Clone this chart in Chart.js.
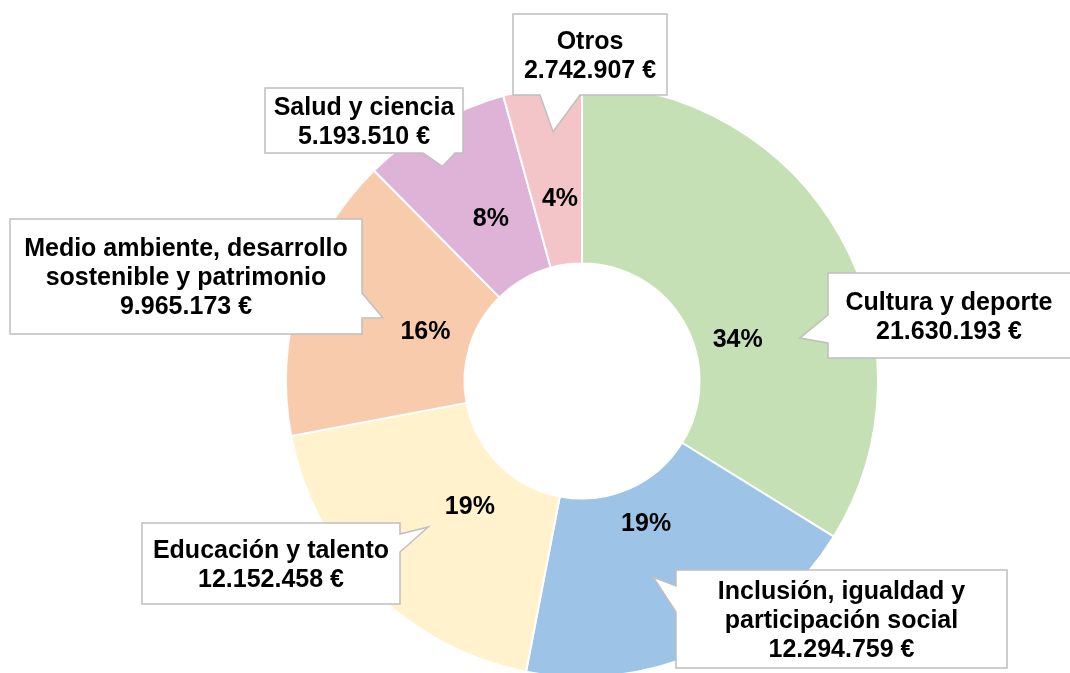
<!DOCTYPE html>
<html>
<head>
<meta charset="utf-8">
<script src="https://cdn.jsdelivr.net/npm/chart.js@4"></script>
<style>
  html, body { margin: 0; padding: 0; background: #fff; overflow: hidden; }
  canvas { display: block; }
</style>
</head>
<body>
<canvas id="chart" width="1070" height="700"></canvas>
<script>
const categories = [
  'Cultura y deporte',
  'Inclusión, igualdad y participación social',
  'Educación y talento',
  'Medio ambiente, desarrollo sostenible y patrimonio',
  'Salud y ciencia',
  'Otros'
]
const amounts = [21630193, 12294759, 12152458, 9965173, 5193510, 2742907]
const colors = ['#C5E0B4', '#9DC3E6', '#FFF2CC', '#F8CBAD', '#DEB3D7', '#F3C5C9']

// how each category name wraps inside its callout
const calloutLines = [
  ['Cultura y deporte'],
  ['Inclusión, igualdad y', 'participación social'],
  ['Educación y talento'],
  ['Medio ambiente, desarrollo', 'sostenible y patrimonio'],
  ['Salud y ciencia'],
  ['Otros']
]

// callout boxes, the edge their tail leaves from, and where the tail points (angle shift in deg, radius)
const callouts = [
  { box: [828, 273, 260, 85], tail: ['left', 315, 343], tip: [18, 222] },
  { box: [676, 570, 331, 98], tail: ['left', 586, 612], tip: [3.7, 209] },
  { box: [142, 523, 258, 81], tail: ['right', 534, 552], tip: [1.4, 212] },
  { box: [10, 219, 352, 115], tail: ['right', 293, 318], tip: [0.3, 209] },
  { box: [265, 88, 198, 65], tail: ['bottom', 423, 455], tip: [-3, 256] },
  { box: [513, 14, 154, 81], tail: ['bottom', 540, 580], tip: [1.1, 251] }
]

// percentage label placement inside the ring (angle shift in deg, radius)
const pctSpots = [[14.4, 161], [-0.4, 157], [-3.5, 169], [0, 164], [0.7, 186], [0.8, 183]]

const FONT = 'bold 25px "Liberation Sans", Arial, sans-serif'
const CLIP_TOP = 95

const total = amounts.reduce((a, b) => a + b, 0)
const fmtEuro = v => String(v).replace(/\B(?=(\d{3})+(?!\d))/g, '.') + ' €'
const rad = d => d * Math.PI / 180

function polar(arc, shiftDeg, r) {
  const mid = (arc.startAngle + arc.endAngle) / 2 + rad(shiftDeg)
  return { x: arc.x + r * Math.cos(mid), y: arc.y + r * Math.sin(mid) }
}

function calloutPath(ctx, box, tail, tip) {
  const [x, y, w, h] = box
  const [side, a, b] = tail
  ctx.beginPath()
  ctx.moveTo(x, y)
  ctx.lineTo(x + w, y)
  if (side === 'right') {
    ctx.lineTo(x + w, a)
    ctx.lineTo(tip.x, tip.y)
    ctx.lineTo(x + w, b)
  }
  ctx.lineTo(x + w, y + h)
  if (side === 'bottom') {
    ctx.lineTo(b, y + h)
    ctx.lineTo(tip.x, tip.y)
    ctx.lineTo(a, y + h)
  }
  ctx.lineTo(x, y + h)
  if (side === 'left') {
    ctx.lineTo(x, b)
    ctx.lineTo(tip.x, tip.y)
    ctx.lineTo(x, a)
  }
  ctx.closePath()
}

// ring is cut off flat along the top of the plot area
const clipTop = {
  id: 'clipTop',
  beforeDatasetsDraw(chart) {
    const ctx = chart.ctx
    ctx.save()
    ctx.beginPath()
    ctx.rect(0, CLIP_TOP, chart.width, chart.height)
    ctx.clip()
  },
  afterDatasetsDraw(chart) {
    chart.ctx.restore()
  }
}

const labels = {
  id: 'labels',
  afterDraw(chart) {
    const ctx = chart.ctx
    const arcs = chart.getDatasetMeta(0).data
    ctx.save()
    ctx.font = FONT
    ctx.fillStyle = '#000'
    ctx.textAlign = 'center'
    ctx.textBaseline = 'middle'

    // percentages on the slices
    arcs.forEach((arc, i) => {
      const p = polar(arc, pctSpots[i][0], pctSpots[i][1])
      ctx.fillText(Math.round(amounts[i] / total * 100) + '%', p.x, p.y)
    })

    // callouts with name and amount
    arcs.forEach((arc, i) => {
      const c = callouts[i]
      const tip = polar(arc, c.tip[0], c.tip[1])
      calloutPath(ctx, c.box, c.tail, tip)
      ctx.fillStyle = '#fff'
      ctx.fill()
      ctx.lineWidth = 1.5
      ctx.strokeStyle = '#BFBFBF'
      ctx.stroke()

      const lines = calloutLines[i].concat(fmtEuro(amounts[i]))
      const [x, y, w, h] = c.box
      const cx = x + Math.min(w, chart.width - x) / 2
      const lh = 29
      const y0 = y + h / 2 - (lines.length - 1) * lh / 2 + 2
      ctx.fillStyle = '#000'
      lines.forEach((t, k) => ctx.fillText(t, cx, y0 + k * lh))
    })
    ctx.restore()
  }
}

new Chart(document.getElementById('chart'), {
  type: 'doughnut',
  data: {
    labels: categories,
    datasets: [{
      data: amounts,
      backgroundColor: colors,
      borderColor: '#fff',
      borderWidth: 2
    }]
  },
  options: {
    responsive: false,
    animation: false,
    cutout: '39.7%',
    layout: { padding: { left: 285, right: 191, top: 84, bottom: 22 } },
    plugins: {
      legend: { display: false },
      tooltip: { enabled: false }
    }
  },
  plugins: [clipTop, labels]
})
</script>
</body>
</html>
